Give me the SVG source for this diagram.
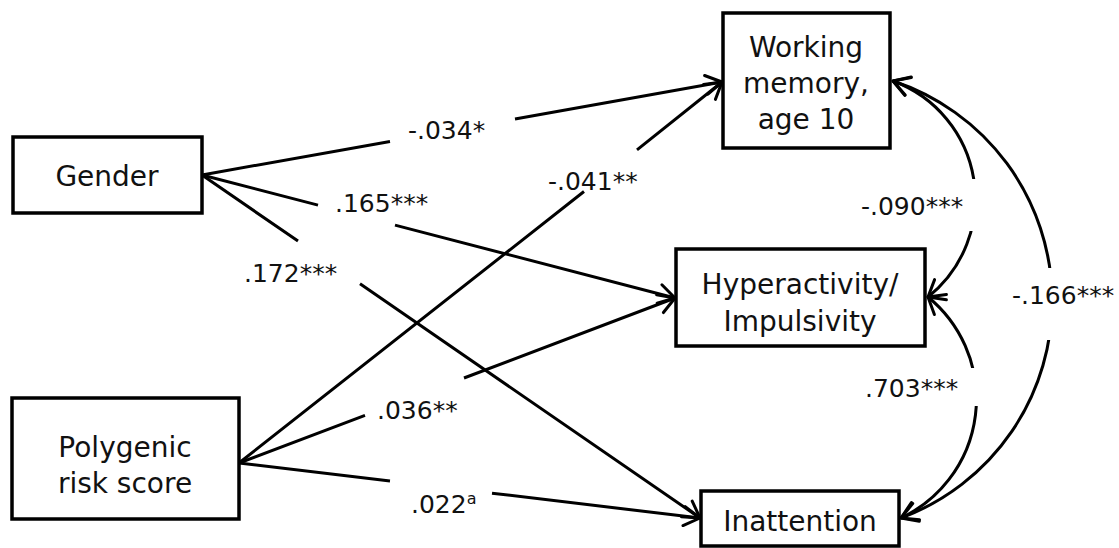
<svg xmlns="http://www.w3.org/2000/svg" width="1119" height="548" viewBox="0 0 1119 548">
  <style>
    .box { fill: #fff; stroke: #000; stroke-width: 3.5; }
    .node-text { font-family: "DejaVu Sans", Verdana, sans-serif; font-size: 28px; fill: #111; text-anchor: middle; }
    .edge { fill: none; stroke: #000; stroke-width: 3; }
    .coef { font-family: "DejaVu Sans", Verdana, sans-serif; font-size: 25px; fill: #111; }
    .sup { font-size: 16px; }
    .mask { fill: #fff; stroke: none; }
  </style>
  <defs>
    <marker id="head" markerUnits="userSpaceOnUse" viewBox="-18 -12 20 24" markerWidth="20" markerHeight="24" refX="0" refY="0" orient="auto-start-reverse" overflow="visible">
      <path d="M-16,-9.5 L0,0 L-16,9.5" fill="none" stroke="#000" stroke-width="3" stroke-linecap="round" stroke-linejoin="round"/>
    </marker>
  </defs>

  <!-- regression paths and covariances -->
  <g id="connectors">
    <!-- Gender -> Working memory -->
    <path class="edge" d="M202,175 L390,141.4 M515,119.1 L722,82" marker-end="url(#head)"/>
    <!-- Gender -> Hyperactivity/Impulsivity -->
    <path class="edge" d="M202,175 L318,205.1 M395,225.1 L675,298" marker-end="url(#head)"/>
    <!-- Gender -> Inattention -->
    <path class="edge" d="M202,175 L298,241.1 M360,283.8 L700,518" marker-end="url(#head)"/>
    <!-- Polygenic risk score -> Working memory -->
    <path class="edge" d="M239,463 L584,191.5 M637,149.8 L722,82" marker-end="url(#head)"/>
    <!-- Polygenic risk score -> Hyperactivity/Impulsivity -->
    <path class="edge" d="M239,463 L365,415.4 M464,378 L675,298" marker-end="url(#head)"/>
    <!-- Polygenic risk score -> Inattention -->
    <path class="edge" d="M239,463 L390,481 M492,493.2 L700,518" marker-end="url(#head)"/>

    <!-- residual covariances (double-headed arcs) -->
    <path class="edge" d="M893,81 A125.5,125.5 0 0 1 928,297" marker-start="url(#head)" marker-end="url(#head)"/>
    <path class="edge" d="M928,297 A131.6,131.6 0 0 1 901,518" marker-start="url(#head)" marker-end="url(#head)"/>
    <path class="edge" d="M893,81 A231.5,231.5 0 0 1 901,518" marker-start="url(#head)" marker-end="url(#head)"/>

    <!-- label backings that break the arcs -->
    <rect class="mask" x="858" y="179" width="124" height="52"/>
    <rect class="mask" x="860" y="368" width="125" height="38"/>
    <rect class="mask" x="1008" y="268" width="111" height="72"/>
  </g>

  <g id="coefficients">
    <text class="coef" x="408" y="139">-.034*</text>
    <text class="coef" x="548" y="190">-.041**</text>
    <text class="coef" x="335" y="212">.165***</text>
    <text class="coef" x="244" y="282">.172***</text>
    <text class="coef" x="377" y="419">.036**</text>
    <text class="coef" x="411" y="513">.022<tspan class="sup" dy="-9">a</tspan></text>
    <text class="coef" x="861" y="215">-.090***</text>
    <text class="coef" x="865" y="397">.703***</text>
    <text class="coef" x="1012" y="304">-.166***</text>
  </g>

  <g id="gender">
    <rect class="box" x="13" y="137" width="189" height="76"/>
    <text class="node-text" x="107" y="186">Gender</text>
  </g>

  <g id="working-memory">
    <rect class="box" x="723" y="13" width="167" height="135"/>
    <text class="node-text" x="806" y="57">Working</text>
    <text class="node-text" x="806" y="93">memory,</text>
    <text class="node-text" x="806" y="129">age 10</text>
  </g>

  <g id="hyperactivity">
    <rect class="box" x="676" y="249" width="249" height="97"/>
    <text class="node-text" x="800" y="294">Hyperactivity/</text>
    <text class="node-text" x="800" y="331">Impulsivity</text>
  </g>

  <g id="polygenic-risk">
    <rect class="box" x="12" y="398" width="227" height="121"/>
    <text class="node-text" x="125" y="457">Polygenic</text>
    <text class="node-text" x="125" y="493">risk score</text>
  </g>

  <g id="inattention">
    <rect class="box" x="701" y="491" width="198" height="55"/>
    <text class="node-text" x="800" y="531">Inattention</text>
  </g>
</svg>
